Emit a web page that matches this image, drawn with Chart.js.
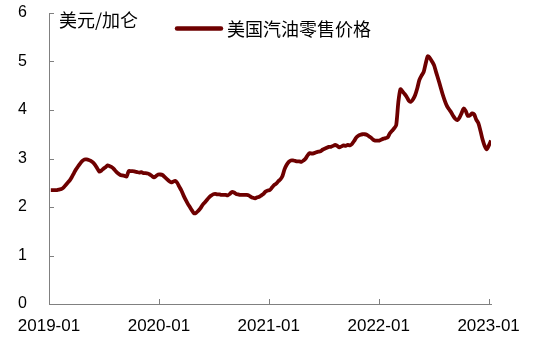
<!DOCTYPE html>
<html>
<head>
<meta charset="utf-8">
<script src="https://cdn.jsdelivr.net/npm/chart.js@4.4.0/dist/chart.umd.min.js"></script>
<style>
html,body{margin:0;padding:0;background:#fff;}
#wrap{width:539px;height:353px;position:relative;}
</style>
</head>
<body>
<div id="wrap"><canvas id="c"></canvas></div>
<script>
// Weekly series, first week 2019-01-07
const startDate = '2019-01-07';
const seriesName = '美国汽油零售价格';
const unitLabel = '美元/加仑';
const tickLabels = ['2019-01', '2020-01', '2021-01', '2022-01', '2023-01'];
const yTicks = [0, 1, 2, 3, 4, 5, 6];
const prices2019 = [2.35,2.35,2.35,2.35, 2.36,2.37,2.40,2.45, 2.50,2.55,2.62,2.70,
  2.78,2.84,2.90,2.95,2.98, 2.98,2.97,2.95,2.92, 2.87,2.80,2.73,2.75,
  2.79,2.82,2.86,2.84,2.82, 2.78,2.73,2.69,2.66, 2.65,2.64,2.63,2.74,2.74,
  2.74,2.73,2.72,2.71, 2.72,2.70,2.70,2.69, 2.67,2.64,2.61,2.64,2.67];
const prices2020 = [2.67,2.66,2.62,2.58, 2.54,2.51,2.52,2.54, 2.50,2.42,2.34,2.24,2.15,
  2.07,2.00,1.93,1.87, 1.88,1.92,1.97,2.04, 2.09,2.14,2.19,2.23,2.26,
  2.27,2.26,2.26,2.25, 2.25,2.25,2.24,2.27,2.31, 2.30,2.27,2.26,2.25,
  2.25,2.25,2.25,2.24, 2.21,2.19,2.18,2.20,2.21, 2.24,2.27,2.32,2.34];
const prices2021 = [2.35,2.40,2.45,2.48, 2.53,2.57,2.64,2.78, 2.87,2.93,2.96,2.96,2.95,
  2.94,2.94,2.93,2.96, 3.00,3.07,3.11,3.10,3.11, 3.13,3.14,3.15,3.18,
  3.20,3.22,3.24,3.24, 3.26,3.28,3.26,3.23,3.25, 3.27,3.26,3.28,3.27,
  3.30,3.36,3.43,3.47, 3.49,3.50,3.50,3.49,3.46, 3.43,3.39,3.37,3.37];
const prices2022 = [3.37,3.39,3.41,3.42,3.44, 3.52,3.57,3.62,3.69, 4.16,4.43,4.38,4.33,
  4.27,4.19,4.17,4.22, 4.31,4.45,4.62,4.71,4.78, 4.96,5.11,5.07,5.00,
  4.92,4.77,4.63,4.48, 4.33,4.20,4.09,4.02,3.96, 3.88,3.82,3.79,3.84,
  3.93,4.03,3.98,3.88,3.89, 3.93,3.91,3.80,3.73, 3.57,3.39,3.26,3.19];
const prices2023 = [3.27,3.37];
const prices = [...prices2019, ...prices2020, ...prices2021, ...prices2022, ...prices2023];

const DAY = 86400000;
const origin = Date.UTC(2019, 0, 1);
const t0 = Date.parse(startDate + 'T00:00:00Z');
const points = prices.map((v, i) => ({ x: ((t0 + i * 7 * DAY) - origin) / DAY / 365.25, y: v }));

const lineColor = '#6e0000';
const axisColor = '#808080';
const latinFont = "'Liberation Sans', Arial, sans-serif";
const cjkFont = "'Noto Sans CJK SC', sans-serif";

const overlay = {
  id: 'overlay',
  afterDraw(chart) {
    const ctx = chart.ctx;
    const xs = chart.scales.x, ys = chart.scales.y;
    const a = chart.chartArea;
    ctx.save();
    ctx.strokeStyle = axisColor;
    ctx.lineWidth = 1;
    ys.ticks.forEach(t => {
      const y = Math.round(ys.getPixelForValue(t.value)) + 0.5;
      ctx.beginPath(); ctx.moveTo(a.left, y); ctx.lineTo(a.left + 5, y); ctx.stroke();
    });
    xs.ticks.forEach(t => {
      const x = Math.round(xs.getPixelForValue(t.value)) + 0.5;
      ctx.beginPath(); ctx.moveTo(x, a.bottom); ctx.lineTo(x, a.bottom - 5); ctx.stroke();
    });
    ctx.fillStyle = '#000';
    ctx.font = '18px ' + cjkFont;
    ctx.textBaseline = 'middle';
    ctx.textAlign = 'left';
    ctx.fillText(unitLabel, 59, 20);
    ctx.strokeStyle = lineColor;
    ctx.lineWidth = 4.5;
    ctx.lineCap = 'round';
    ctx.beginPath(); ctx.moveTo(177, 28.5); ctx.lineTo(221, 28.5); ctx.stroke();
    ctx.fillText(chart.data.datasets[0].label, 227, 29);
    ctx.restore();
  }
};

new Chart(document.getElementById('c'), {
  type: 'line',
  data: { datasets: [{ label: seriesName, data: points, borderColor: lineColor, borderWidth: 3.8, pointRadius: 0, tension: 0.25, fill: false }] },
  options: {
    responsive: true, maintainAspectRatio: false, animation: false,
    layout: { padding: { left: 0, right: 48, top: 13, bottom: 0 } },
    plugins: { legend: { display: false }, tooltip: { enabled: false } },
    scales: {
      x: {
        type: 'linear', min: 0, max: points[points.length - 1].x,
        afterBuildTicks: s => { s.ticks = tickLabels.map((l, i) => ({ value: i })); },
        afterFit: s => { s.height = 49; s.paddingLeft = 0; s.paddingRight = 0; },
        grid: { drawOnChartArea: false, drawTicks: false },
        border: { display: true, color: axisColor, width: 1 },
        ticks: { autoSkip: false, maxRotation: 0, padding: 12, color: '#000', font: { family: latinFont, size: 17 }, callback: v => tickLabels[Math.round(v)] }
      },
      y: {
        min: 0, max: 6,
        afterBuildTicks: s => { s.ticks = yTicks.map(v => ({ value: v })); },
        afterFit: s => { s.width = 49; s.paddingTop = 0; s.paddingBottom = 0; },
        grid: { drawOnChartArea: false, drawTicks: false },
        border: { display: true, color: axisColor, width: 1 },
        ticks: { padding: 22, color: '#000', font: { family: latinFont, size: 16 }, callback: v => String(v) }
      }
    }
  },
  plugins: [overlay]
});
</script>
</body>
</html>
